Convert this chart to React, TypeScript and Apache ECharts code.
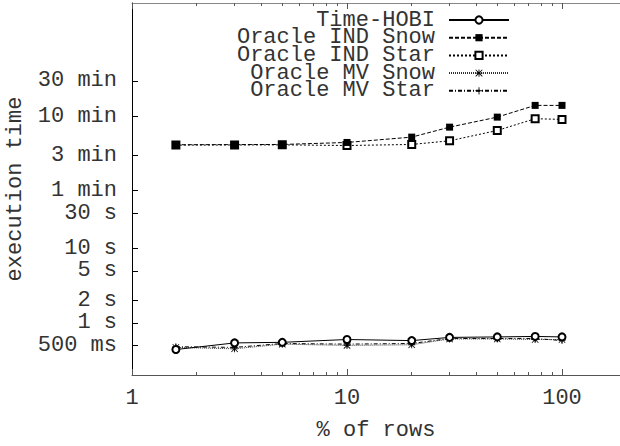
import React, { useEffect, useRef } from 'react';
import * as echarts from 'echarts';

// % of rows (x values)
const rowsPercent = [1.6, 3, 5, 10, 20, 30, 50, 75, 100];
// execution times in seconds
const timeHobi = [0.44, 0.54, 0.55, 0.6, 0.58, 0.64, 0.65, 0.66, 0.65];
const indSnow = [249, 250, 251, 267, 315, 429, 585, 841, 841];
const indStar = [246, 247, 248, 243, 251, 281, 387, 557, 545];
const mvSnow = [0.47, 0.45, 0.52, 0.5, 0.51, 0.61, 0.61, 0.6, 0.6];
const mvStar = [0.48, 0.47, 0.53, 0.52, 0.53, 0.62, 0.62, 0.62, 0.58];

const seriesNames = ['Time-HOBI', 'Oracle IND Snow', 'Oracle IND Star', 'Oracle MV Snow', 'Oracle MV Star'];

const xMajorTicks = [1, 10, 100];
const xMinorTicks = [2, 3, 4, 5, 6, 7, 8, 9, 20, 30, 40, 50, 60, 70, 80, 90];
const yTickValues = [0.5, 1, 2, 5, 10, 30, 60, 180, 600, 1800];
const yTickLabels = ['500 ms', '1 s', '2 s', '5 s', '10 s', '30 s', '1 min', '3 min', '10 min', '30 min'];

const FONT = 'Liberation Mono';
const TEXT = '#333';

const ASTERISK =
  'path://M4.4,0H5.6V10H4.4Z M0,4.4H10V5.6H0Z M0.8,0L10,9.2L9.2,10L0,0.8Z M9.2,0L10,0.8L0.8,10L0,9.2Z';
const PLUS = 'path://M4.4,0H5.6V4.4H10V5.6H5.6V10H4.4V5.6H0V4.4H4.4Z';

function pairs(ys: number[]) {
  return rowsPercent.map((x, i) => [x, ys[i]]);
}

function yLabel(v: number) {
  for (let i = 0; i < yTickValues.length; i++) {
    if (Math.abs(Math.log10(v) - Math.log10(yTickValues[i])) < 1e-6) return yTickLabels[i];
  }
  return '';
}

const X_MIN = 1;
const X_MAX = 186.1;

function buildOption(): any {
  const baseX = {
    type: 'log',
    logBase: 10,
    min: X_MIN,
    max: X_MAX,
    splitLine: { show: false },
    minorTick: { show: false },
    axisPointer: { show: false },
  };
  const mkSeries = (name: string, data: number[], symbol: string, dash: any, extra: any = {}) => ({
    name,
    type: 'line',
    xAxisIndex: 0,
    yAxisIndex: 0,
    data: pairs(data),
    symbol,
    symbolSize: 7,
    lineStyle: { color: '#000', width: 1, type: dash },
    itemStyle: { color: '#000', borderWidth: 1 },
    emphasis: { disabled: true },
    ...extra,
  });
  return {
    animation: false,
    backgroundColor: '#fff',
    textStyle: { fontFamily: FONT },
    grid: { left: 132, top: 3, width: 488, height: 372, containLabel: false, outerBoundsMode: 'none' },
    legend: {
      orient: 'vertical',
      align: 'right',
      right: 110,
      top: 9,
      padding: 0,
      itemWidth: 60,
      itemHeight: 9,
      itemGap: -4.3,
      selectedMode: false,
      data: seriesNames,
      textStyle: { fontFamily: FONT, fontSize: 22, lineHeight: 17, color: TEXT, padding: [0, 9, 0, 0] },
    },
    xAxis: [
      {
        ...baseX,
        position: 'bottom',
        axisLine: { show: true, onZero: false, lineStyle: { color: '#555', width: 1 } },
        axisTick: { show: true, inside: true, length: 6, customValues: xMajorTicks, lineStyle: { color: '#555' } },
        axisLabel: {
          customValues: xMajorTicks,
          formatter: (v: number) => String(Math.round(v)),
          fontFamily: FONT,
          fontSize: 22,
          color: TEXT,
          margin: 12,
        },
        name: '% of rows',
        nameLocation: 'middle',
        nameGap: 44,
        nameTextStyle: { fontFamily: FONT, fontSize: 22, color: TEXT },
      },
      {
        ...baseX,
        position: 'top',
        axisLine: { show: true, onZero: false, lineStyle: { color: '#888', width: 1 } },
        axisTick: { show: true, inside: true, length: 6, customValues: xMajorTicks, lineStyle: { color: '#555' } },
        axisLabel: { show: false },
      },
      {
        ...baseX,
        position: 'bottom',
        axisLine: { show: false, onZero: false },
        axisTick: { show: true, inside: true, length: 3, customValues: xMinorTicks, lineStyle: { color: '#555' } },
        axisLabel: { show: false },
      },
      {
        ...baseX,
        position: 'top',
        axisLine: { show: false, onZero: false },
        axisTick: { show: true, inside: true, length: 3, customValues: xMinorTicks, lineStyle: { color: '#555' } },
        axisLabel: { show: false },
      },
    ],
    yAxis: {
      type: 'log',
      logBase: 10,
      min: 0.2,
      max: 20000,
      position: 'left',
      splitLine: { show: false },
      minorTick: { show: false },
      axisLine: { show: true, onZero: false, lineStyle: { color: '#000', width: 1 } },
      axisTick: { show: true, inside: true, length: 6, customValues: yTickValues, lineStyle: { color: '#000' } },
      axisLabel: {
        customValues: yTickValues,
        formatter: (v: number) => yLabel(v),
        fontFamily: FONT,
        fontSize: 22,
        lineHeight: 18,
        color: TEXT,
        margin: 15,
      },
      name: 'execution time',
      nameLocation: 'middle',
      nameGap: 105,
      nameRotate: 90,
      nameTextStyle: { fontFamily: FONT, fontSize: 22, color: TEXT },
    },
    series: [
      mkSeries(seriesNames[0], timeHobi, 'emptyCircle', 'solid', { z: 5 }),
      mkSeries(seriesNames[1], indSnow, 'rect', [4, 2], { z: 4 }),
      mkSeries(seriesNames[2], indStar, 'emptyRect', [2, 2], { z: 3 }),
      mkSeries(seriesNames[3], mvSnow, ASTERISK, [1, 1], { z: 2, lineStyle: { color: '#333', width: 1, type: [1, 1] } }),
      mkSeries(seriesNames[4], mvStar, PLUS, [4, 2, 1, 2], { z: 2 }),
    ],
  };
}

export default function App() {
  const ref = useRef<HTMLDivElement>(null);
  useEffect(() => {
    document.body.style.margin = '0';
    const chart = echarts.init(ref.current as HTMLDivElement, null, { renderer: 'svg' });
    chart.setOption(buildOption());
    return () => chart.dispose();
  }, []);
  return <div ref={ref} style={{ width: 620, height: 446 }} />;
}
